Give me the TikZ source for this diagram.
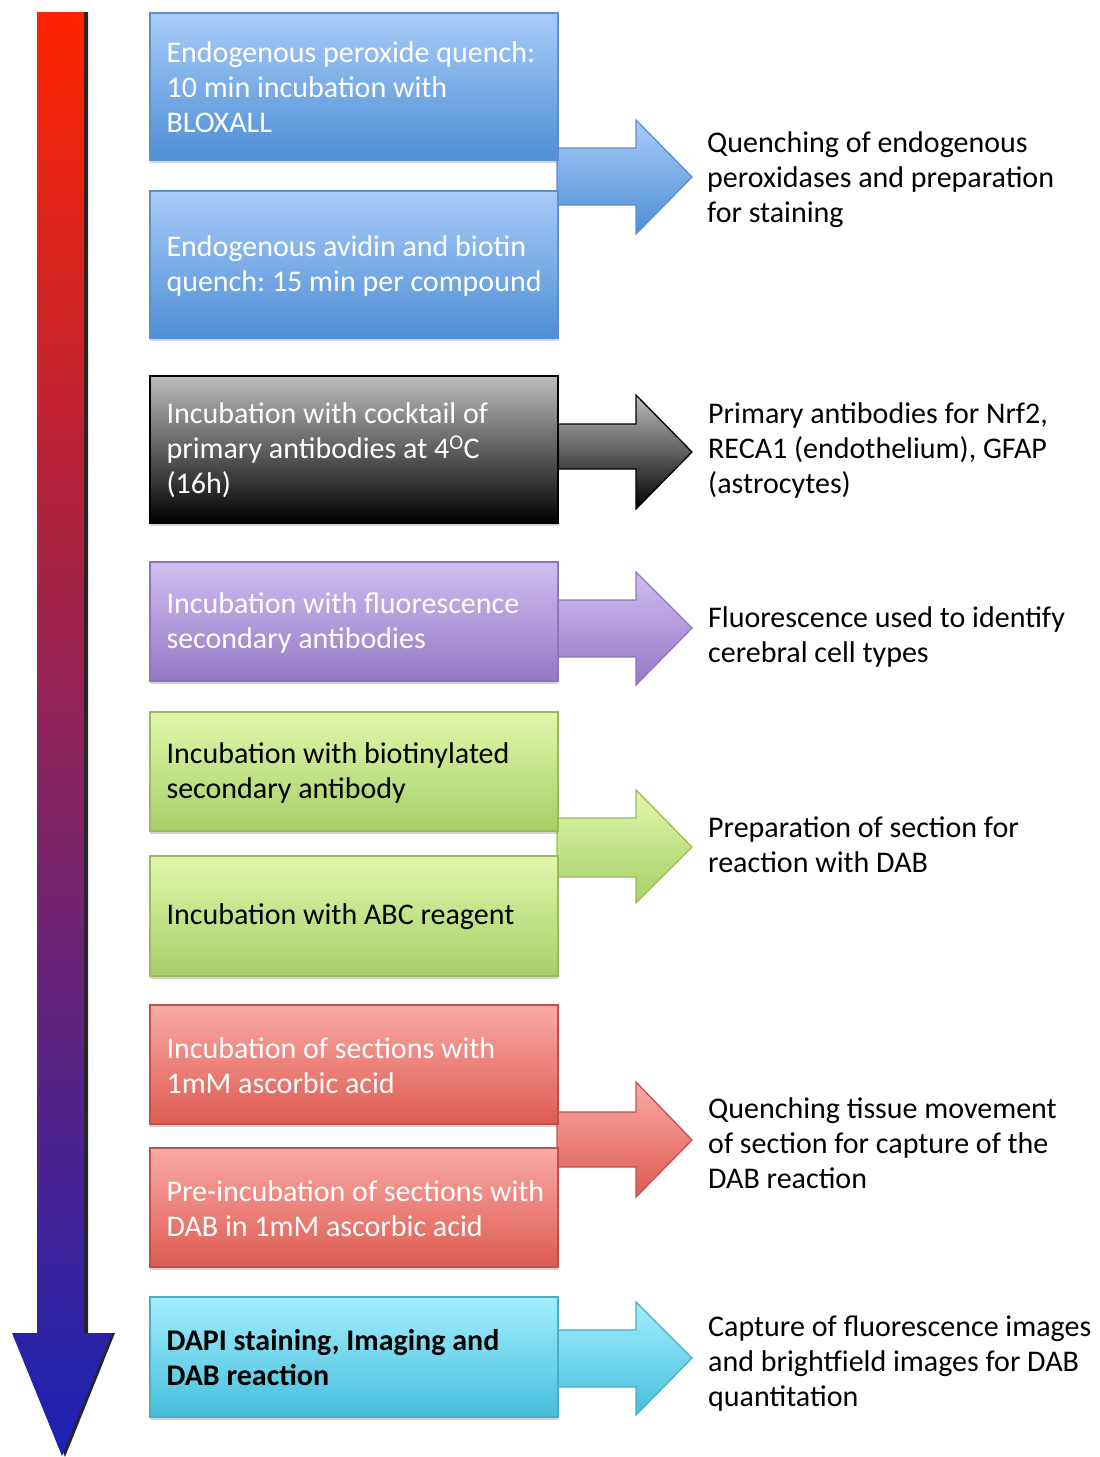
\documentclass[tikz,border=0pt]{standalone}
\usepackage{fontspec}
\setmainfont{Carlito}
\frenchspacing
\usetikzlibrary{shadows}
\definecolor{blueT}{HTML}{A9CBF8}\definecolor{blueB}{HTML}{4E8FD6}\definecolor{blueD}{HTML}{5C8FCB}
\definecolor{grayT}{HTML}{BDBDBD}\definecolor{grayB}{HTML}{000000}\definecolor{grayD}{HTML}{000000}
\definecolor{purpT}{HTML}{CFBDF0}\definecolor{purpB}{HTML}{9479C3}\definecolor{purpD}{HTML}{8E76BA}
\definecolor{grenT}{HTML}{E2F7AA}\definecolor{grenB}{HTML}{A6CF68}\definecolor{grenD}{HTML}{9BBB59}
\definecolor{redT}{HTML}{F9AAA4}\definecolor{redB}{HTML}{DE5B52}\definecolor{redD}{HTML}{C0504D}
\definecolor{cyanT}{HTML}{A2EEFC}\definecolor{cyanB}{HTML}{45BFDC}\definecolor{cyanD}{HTML}{4BACC6}
\definecolor{arrTop}{HTML}{FF2400}\definecolor{arrMid}{HTML}{B81A55}\definecolor{arrBot}{HTML}{1A22B4}
\newcommand{\blockarr}[6]{% shaft top, shaft bottom, head top, head bottom, tip y, colour prefix
  \shade[top color=#6T, bottom color=#6B, draw=#6D, line width=1.3pt, line join=miter]
    (557,#1) -- (636,#1) -- (636,#3) -- (692,#5) -- (636,#4) -- (636,#2) -- (557,#2) -- cycle;}
\begin{document}
\begin{tikzpicture}[x=1pt,y=-1pt,
  txt/.style={font=\fontsize{30}{35}\selectfont, align=left, inner sep=0pt, anchor=west},
  stepbox/.style={draw=#1D, line width=1.3pt, top color=#1T, bottom color=#1B,
     minimum width=408pt, inner sep=0pt,
     drop shadow={shadow xshift=0pt, shadow yshift=-3pt, opacity=0.35}},
  wtxt/.style={txt, text=white},
  btxt/.style={txt, text=black}]
\useasboundingbox (0,0) rectangle (1100,1457);
% timeline arrow
\fill[black!85] (40,12) -- (88,12) -- (88,1333) -- (115,1333) -- (65,1457) -- (15,1333) -- (40,1333) -- cycle;
\shade[top color=arrTop, middle color=arrMid, bottom color=arrBot]
  (37,12) -- (84,12) -- (84,1333) -- (112,1333) -- (62,1456) -- (12,1333) -- (37,1333) -- cycle;
% block arrows
\blockarr{148}{205}{120}{234}{177}{blue}
\blockarr{424}{469}{395}{509}{452}{gray}
\blockarr{600}{657}{572}{685}{628}{purp}
\blockarr{818}{877}{790}{903}{847}{gren}
\blockarr{1112}{1167}{1082}{1197}{1140}{red}
\blockarr{1330}{1387}{1302}{1415}{1358}{cyan}
% boxes
\node[stepbox=blue, minimum height=147pt] (b1) at (354,86.5) {};
\node[stepbox=blue, minimum height=147pt] (b2) at (354,264.5) {};
\node[stepbox=gray, minimum height=147pt] (b3) at (354,449.5) {};
\node[stepbox=purp, minimum height=119pt] (b4) at (354,621.5) {};
\node[stepbox=gren, minimum height=119pt] (b5) at (354,771.5) {};
\node[stepbox=gren, minimum height=120pt] (b6) at (354,916) {};
\node[stepbox=red, minimum height=119pt] (b7) at (354,1064.5) {};
\node[stepbox=red, minimum height=119pt] (b8) at (354,1207.5) {};
\node[stepbox=cyan, minimum height=120pt] (b9) at (354,1357) {};
% box texts
\node[wtxt] (t1) at ([xshift=17pt,yshift=-1pt]b1.west) {Endogenous peroxide quench:\\10 min incubation with\\BLOXALL};
\node[wtxt] (t2) at ([xshift=17pt,yshift=-1pt]b2.west) {Endogenous avidin and biotin\\quench: 15 min per compound};
\node[wtxt] (t3) at ([xshift=17pt,yshift=-1pt]b3.west) {Incubation with cocktail of\\primary antibodies at 4\textsuperscript{O}C\\(16h)};
\node[wtxt] (t4) at ([xshift=17pt,yshift=-1pt]b4.west) {Incubation with fluorescence\\secondary antibodies};
\node[btxt] (t5) at ([xshift=17pt,yshift=-1pt]b5.west) {Incubation with biotinylated\\secondary antibody};
\node[btxt] (t6) at ([xshift=17pt,yshift=-1pt]b6.west) {Incubation with ABC reagent};
\node[wtxt] (t7) at ([xshift=17pt,yshift=-1pt]b7.west) {Incubation of sections with\\1mM ascorbic acid};
\node[wtxt] (t8) at ([xshift=17pt,yshift=-1pt]b8.west) {Pre-incubation of sections with\\DAB in 1mM ascorbic acid};
\node[btxt, font=\fontsize{30}{35}\selectfont\bfseries] (t9) at ([xshift=17pt,yshift=-1pt]b9.west) {DAPI staining, Imaging and\\DAB reaction};
% right texts
\node[btxt] (r1) at (707,180) {Quenching of endogenous\\peroxidases and preparation\\for staining};
\node[btxt] (r2) at (708,450) {Primary antibodies for Nrf2,\\RECA1 (endothelium), GFAP\\(astrocytes)};
\node[btxt] (r3) at (708,637) {Fluorescence used to identify\\cerebral cell types};
\node[btxt] (r4) at (708,845) {Preparation of section for\\reaction with DAB};
\node[btxt] (r5) at (708,1143) {Quenching tissue movement\\of section for capture of the\\DAB reaction};
\node[btxt] (r6) at (708,1364) {Capture of fluorescence images\\and brightfield images for DAB\\quantitation};
\end{tikzpicture}
\end{document}
